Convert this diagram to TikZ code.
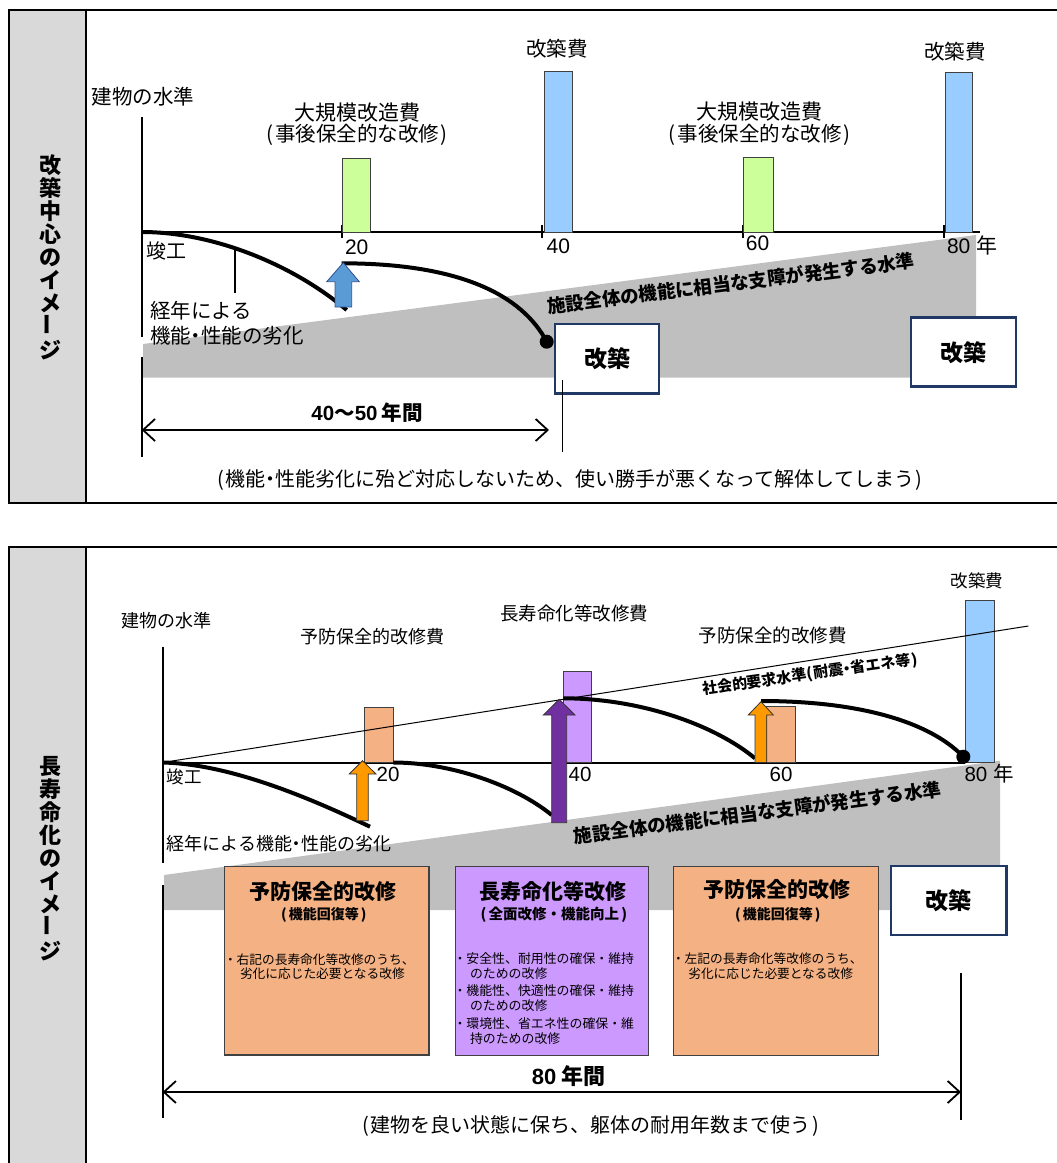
\documentclass[tikz,border=0pt]{standalone}
\usepackage{fontspec}
\setmainfont{Noto Sans CJK JP}
\newfontfamily\arial{Liberation Sans}
\usetikzlibrary{arrows.meta}
\definecolor{colgray}{HTML}{D9D9D9}
\definecolor{bandgray}{HTML}{BFBFBF}
\definecolor{grnbar}{HTML}{CCFF99}
\definecolor{blubar}{HTML}{99CCFF}
\definecolor{bluarr}{HTML}{5B9BD5}
\definecolor{bluarrline}{HTML}{2F528F}
\definecolor{orgbar}{HTML}{F4B183}
\definecolor{orgarr}{HTML}{FF9900}
\definecolor{purbar}{HTML}{CC99FF}
\definecolor{purarr}{HTML}{7030A0}
\definecolor{navyline}{HTML}{1F3864}
\newcommand\fsz[1]{\fontsize{#1}{#1}\selectfont}
\newcommand\lp{(\hspace{.08em}}
\newcommand\rp{\hspace{.08em})}
\newcommand\flp{\hspace{.3em}(\hspace{.15em}}
\newcommand\frp{\hspace{.15em})\hspace{.3em}}
\newcommand\nk{\kern-.25em・\kern-.25em}
\tikzset{
  panel/.style={line width=2.2pt, draw=black},
  axisline/.style={line width=2pt, draw=black},
  barbox/.style={draw=black!75, line width=1pt},
  agecurve/.style={line width=4pt, draw=black},
  leadline/.style={line width=1.6pt, draw=black},
  thinline/.style={line width=1pt, draw=black},
  dimarrow/.style={line width=1.8pt, arrows={Straight Barb[length=12pt,width=22pt]-Straight Barb[length=12pt,width=22pt]}},
  blockarr/.style={line width=0.8pt},
  txt/.style={inner sep=0pt, outer sep=0pt},
  vlabel/.style={inner sep=0pt, align=center, font=\bfseries\fontsize{22}{23}\selectfont},
  kbox/.style={draw=navyline, line width=2.5pt, fill=white, inner sep=0pt, font=\bfseries\fsz{23}},
  infobox/.style={draw=black!75, line width=1.3pt, inner sep=0pt},
  bandlbl/.style={inner sep=0pt, font=\bfseries\fsz{18.5}},
}
\begin{document}
\begin{tikzpicture}[x=1pt,y=-1pt]
\useasboundingbox (0,0) rectangle (1057,1163);
\clip (0,0) rectangle (1057,1163);

% ================= top panel =================
\fill[colgray] (9,10) rectangle (86,502.7);
\draw[panel] (9,10) rectangle (1075,502.7);
\draw[panel] (86,10) -- (86,502.7);
\node[vlabel] (vtop) at (50,257) {改\\築\\中\\心\\の\\イ\\メ\\\rotatebox{90}{ー}\\ジ};

\fill[bandgray] (143,344) -- (976,235) -- (976,377.5) -- (143,377.5) -- cycle;

\coordinate (T0) at (141.7,232);
\coordinate (TE) at (980,232);
\draw[axisline] (141.7,117) -- (141.7,336.7);
\draw[axisline] (141.7,356.7) -- (141.7,456.7);
\draw[axisline] (T0) -- (TE);
\foreach \x in {341.7,541.7,742.7,944} \draw[axisline] (\x,225) -- (\x,238);

\draw[barbox, fill=grnbar] (342.7,158) rectangle (370.7,232);
\draw[barbox, fill=blubar] (544.3,71) rectangle (572.3,232);
\draw[barbox, fill=grnbar] (743.3,157) rectangle (773.3,232);
\draw[barbox, fill=blubar] (945,72) rectangle (972.7,232);

\coordinate (c1e) at (346.7,310);
\draw[agecurve] (T0) .. controls (215,232) and (295,266) .. (c1e);
\coordinate (c2s) at (341.7,263.3);
\coordinate (dot1) at (546.7,341.7);
\draw[agecurve] (c2s) .. controls (460,263.3) and (522,295) .. (dot1);
\fill (dot1) circle[radius=7pt];
\coordinate (ld1) at (235,250);
\coordinate (ld2) at (235,292.7);
\draw[leadline] (ld1) -- (ld2);

\draw[blockarr, fill=bluarr, draw=bluarrline] (335,307) -- (335,281.7) -- (326.7,281.7) -- (343.3,262.7) -- (359.3,281.7) -- (351.7,281.7) -- (351.7,307) -- cycle;

\node[txt, font=\fsz{20.5}] (lvA) at (143,96.7) {建物の水準};
\node[txt, font=\fsz{21}] (dkA1) at (357,112.7) {大規模改造費};
\node[txt, font=\fsz{20.5}] (dkA2) at (357,135) {\lp 事後保全的な改修\rp};
\node[txt, font=\fsz{21}] (dkB1) at (759,111.7) {大規模改造費};
\node[txt, font=\fsz{20.5}] (dkB2) at (759.5,135) {\lp 事後保全的な改修\rp};
\node[txt, font=\fsz{20.5}] (kcA) at (557,48.3) {改築費};
\node[txt, font=\fsz{20.5}] (kcB) at (955,51.7) {改築費};
\node[txt, font=\fsz{20}] (shA) at (166.7,250.7) {竣工};
\node[txt, font=\arial\fsz{21}] (y20A) at (356.7,247.7) {20};
\node[txt, font=\arial\fsz{21}] (y40A) at (558.3,246.7) {40};
\node[txt, font=\arial\fsz{21}] (y60A) at (757.5,243.3) {60};
\node[txt, font=\fsz{21}, anchor=west] (y80A) at (947,245) {{\arial 80}\hspace{6pt}年};
\node[txt, font=\fsz{20.5}, anchor=west] (agA1) at (150,311) {経年による};
\node[txt, font=\fsz{20.5}, anchor=west] (agA2) at (150,336) {機能\nk 性能の劣化};
\node[bandlbl, rotate=7.1] (blA) at (730.7,283.3) {施設全体の機能に相当な支障が発生する水準};

\node[kbox, minimum width=104pt, minimum height=69.3pt] (kbA1) at (607,358.7) {改築};
\node[kbox, minimum width=105pt, minimum height=69pt] (kbA2) at (963.5,352.2) {改築};
\coordinate (vlA1) at (562.6,380);
\coordinate (vlA2) at (562.6,452);
\draw[leadline] (vlA1) -- (vlA2);

\coordinate (daA1) at (141.7,430);
\coordinate (daA2) at (549,430);
\draw[dimarrow] (daA1) -- (daA2);
\node[txt, font=\bfseries\fsz{20.5}] (yrA) at (367,413) {{\arial\bfseries 40}〜{\arial\bfseries 50}\hspace{4pt}年間};
\node[txt, font=\fsz{20}] (ftA) at (570,480) {\lp 機能\nk 性能劣化に殆ど対応しないため、使い勝手が悪くなって解体してしまう\rp};

% ================= bottom panel =================
\fill[colgray] (9,546.7) rectangle (86,1180);
\draw[panel] (9,546.7) rectangle (1075,1180);
\draw[panel] (86,546.7) -- (86,1180);
\node[vlabel] (vbot) at (50,858.5) {長\\寿\\命\\化\\の\\イ\\メ\\\rotatebox{90}{ー}\\ジ};

\fill[bandgray] (164,875) -- (1000,760.7) -- (1000,910) -- (164,910) -- cycle;

\coordinate (B0) at (162.6,762.5);
\coordinate (BE) at (965,762.5);
\draw[axisline] (162.6,646.5) -- (162.6,862.6);
\draw[axisline] (162.6,885) -- (162.6,1118);
\draw[axisline] (B0) -- (BE);

\draw[barbox, fill=orgbar] (364.3,707.7) rectangle (393.3,762.5);
\draw[barbox, fill=purbar] (563.3,671.7) rectangle (591.7,762.5);
\draw[barbox, fill=orgbar] (766.7,706.7) rectangle (795,762.5);
\draw[barbox, fill=blubar] (965,600.7) rectangle (994.3,762.5);

\coordinate (SL) at (1028.3,626);
\draw[thinline] (B0) -- (SL);

\coordinate (cAe) at (370,826.7);
\draw[agecurve] (B0) .. controls (230,764) and (310,798) .. (cAe);
\coordinate (cBs) at (393.3,762.5);
\coordinate (cBe) at (551.7,815);
\draw[agecurve] (cBs) .. controls (450,762.5) and (515,785) .. (cBe);
\coordinate (cCs) at (563.3,698.3);
\coordinate (cCe) at (755,758.3);
\draw[agecurve] (cCs) .. controls (640,698.3) and (715,725) .. (cCe);
\coordinate (cDs) at (761,701);
\coordinate (dot2) at (963.3,756.7);
\draw[agecurve] (cDs) .. controls (860,701) and (930,722) .. (dot2);
\fill (dot2) circle[radius=7pt];

\draw[blockarr, fill=orgarr, draw=black!80] (356.7,820.7) -- (356.7,774) -- (349.3,774) -- (362.5,760.7) -- (376,774) -- (368.3,774) -- (368.3,820.7) -- cycle;
\draw[blockarr, fill=purarr, draw=black!80] (551.7,822.7) -- (551.7,715) -- (543.3,715) -- (559.2,699.3) -- (575,715) -- (566.7,715) -- (566.7,822.7) -- cycle;
\draw[blockarr, fill=orgarr, draw=black!80] (755,762.5) -- (755,715) -- (748.3,715) -- (761,701.7) -- (773.3,715) -- (766.7,715) -- (766.7,762.5) -- cycle;

\node[txt, font=\fsz{18}] (lvB) at (166,621) {建物の水準};
\node[txt, font=\fsz{18}] (ybB1) at (372,637) {予防保全的改修費};
\node[txt, font=\fsz{18.5}] (chB) at (574,613.5) {長寿命化等改修費};
\node[txt, font=\fsz{18.5}] (ybB2) at (772.5,635) {予防保全的改修費};
\node[txt, font=\fsz{17.5}] (kcC) at (977,581) {改築費};
\node[txt, font=\fsz{17.5}] (shB) at (184,776.7) {竣工};
\node[txt, font=\arial\fsz{20.5}] (y20B) at (388,774) {20};
\node[txt, font=\arial\fsz{20.5}] (y40B) at (580,774) {40};
\node[txt, font=\arial\fsz{20.5}] (y60B) at (781,774) {60};
\node[txt, font=\fsz{20.5}, anchor=west] (y80B) at (964.5,773.3) {{\arial 80}\hspace{6pt}年};
\node[txt, font=\fsz{18}, anchor=west] (agB) at (166.7,843.3) {経年による機能\nk 性能の劣化};
\node[txt, font=\bfseries\fsz{15}, rotate=8] (slB) at (810,674.5) {社会的要求水準\lp 耐震\nk 省エネ等\rp};
\node[bandlbl, rotate=7.4] (blB) at (757.5,812.5) {施設全体の機能に相当な支障が発生する水準};

\node[infobox, fill=orgbar, minimum width=204.7pt, minimum height=188.3pt] (bx1) at (326.65,960.85) {};
\node[infobox, fill=purbar, minimum width=192.6pt, minimum height=189pt] (bx2) at (552,961.2) {};
\node[infobox, fill=orgbar, minimum width=205pt, minimum height=189pt] (bx3) at (775.8,961.2) {};
\node[kbox, minimum width=115.7pt, minimum height=69pt] (kbB) at (948.85,900.5) {改築};

\node[txt, font=\bfseries\fsz{21}] (b1t) at (322.5,891.7) {予防保全的改修};
\node[txt, font=\bfseries\fsz{14}] (b1s) at (321.7,915) {\flp 機能回復等\frp};
\node[txt, font=\fsz{12.7}, anchor=west] (b1a) at (224,960) {・右記の長寿命化等改修のうち、};
\node[txt, font=\fsz{12.7}, anchor=west] (b1b) at (240,973.3) {劣化に応じた必要となる改修};

\node[txt, font=\bfseries\fsz{21}] (b2t) at (552.5,891.7) {長寿命化等改修};
\node[txt, font=\bfseries\fsz{14.5}] (b2s) at (551.7,915) {\flp 全面改修・機能向上\frp};
\node[txt, font=\fsz{12.9}, anchor=west] (b2a) at (453.5,959) {・安全性、耐用性の確保・維持};
\node[txt, font=\fsz{12.9}, anchor=west] (b2b) at (470,973.3) {のための改修};
\node[txt, font=\fsz{12.9}, anchor=west] (b2c) at (453.5,990.7) {・機能性、快適性の確保・維持};
\node[txt, font=\fsz{12.9}, anchor=west] (b2d) at (470,1005.7) {のための改修};
\node[txt, font=\fsz{12.9}, anchor=west] (b2e) at (453.5,1023.3) {・環境性、省エネ性の確保・維};
\node[txt, font=\fsz{12.9}, anchor=west] (b2f) at (470,1038.3) {持のための改修};

\node[txt, font=\bfseries\fsz{21}] (b3t) at (776.7,890) {予防保全的改修};
\node[txt, font=\bfseries\fsz{14}] (b3s) at (775.7,915) {\flp 機能回復等\frp};
\node[txt, font=\fsz{12.7}, anchor=west] (b3a) at (672,959) {・左記の長寿命化等改修のうち、};
\node[txt, font=\fsz{12.7}, anchor=west] (b3b) at (688.3,973.3) {劣化に応じた必要となる改修};

\coordinate (vlB1) at (961,973);
\coordinate (vlB2) at (961,1120);
\draw[leadline] (vlB1) -- (vlB2);
\coordinate (daB1) at (162.6,1092);
\coordinate (daB2) at (961,1092);
\draw[dimarrow] (daB1) -- (daB2);
\node[txt, font=\bfseries\fsz{22}] (yrB) at (568.6,1075.6) {{\arial\bfseries 80}\hspace{5pt}年間};
\node[txt, font=\fsz{20}] (ftB) at (590.6,1126) {\lp 建物を良い状態に保ち、躯体の耐用年数まで使う\rp};
\end{tikzpicture}
\end{document}
